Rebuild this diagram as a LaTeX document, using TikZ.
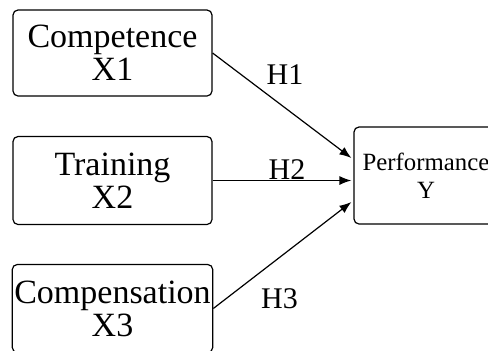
\documentclass[tikz,border=0pt]{standalone}
\usepackage{fontspec}
\setmainfont{Liberation Serif}
\usetikzlibrary{arrows.meta, positioning}

\tikzset{
	varbox/.style={draw, rounded corners=2.5pt, line width=0.6pt, minimum width=99.5pt, inner xsep=1pt, align=center, font=\fontsize{17}{16.5}\selectfont},
	hyp/.style={font=\fontsize{15}{15}\selectfont, inner sep=0pt}
}

\begin{document}
\begin{tikzpicture}[x=0.5pt,y=-0.5pt,->,>={Latex[length=6pt,width=4.5pt]},line width=0.6pt]
	\useasboundingbox (0,0) rectangle (488,350);
	
	\node[varbox, minimum height=43pt] (x1) at (112.5,53) {Competence\\X1};
	\node[varbox, minimum height=44pt] (x2) at (112.5,180.5) {Training\\X2};
	\node[varbox, minimum height=44pt] (x3) at (112.5,308.5) {Compensation\\X3};
	\node[varbox, minimum width=72pt, minimum height=48.5pt, font=\fontsize{12.4}{14}\selectfont] (y) at (426,175.5) {Performance\\Y};
	
	\node[hyp] (h1) at (285,74.5) {H1};
	\node[hyp] (h2) at (287,169.5) {H2};
	\node[hyp] (h3) at (279.5,298.5) {H3};
	
	\draw (x1.east) -- ([xshift=-1pt,yshift=8.75pt]y.west);
	\draw (x2.east) -- ([xshift=-1pt,yshift=-2.5pt]y.west);
	\draw (x3.east) -- ([xshift=-1pt,yshift=-13.25pt]y.west);
	
\end{tikzpicture}
\end{document}
